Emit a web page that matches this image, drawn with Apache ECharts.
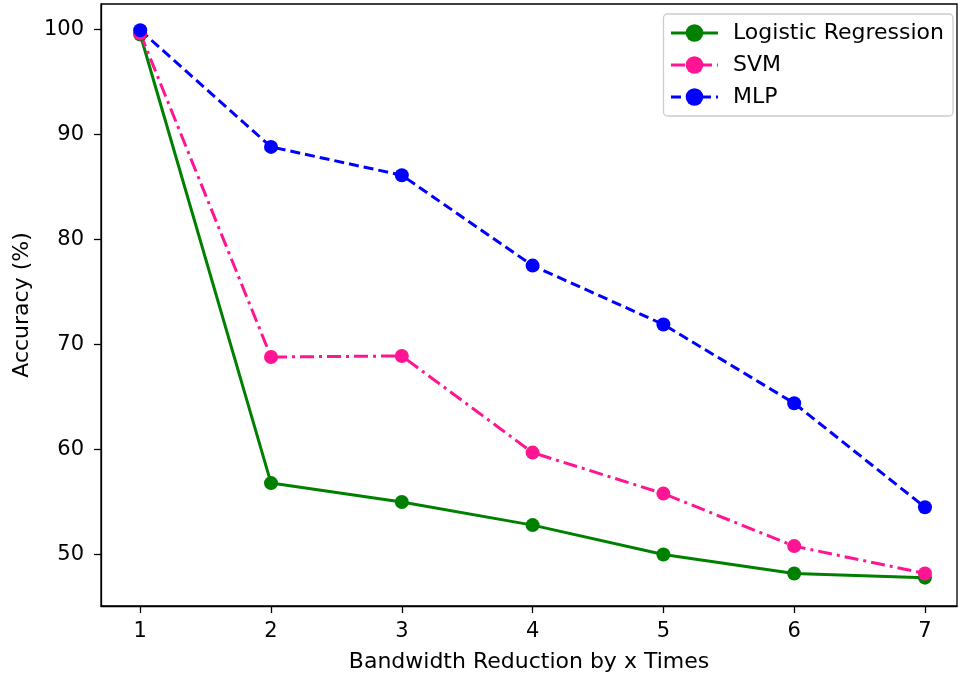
<!DOCTYPE html>
<html><head><meta charset="utf-8">
<script src="https://cdn.jsdelivr.net/npm/echarts@6/dist/echarts.min.js"></script>
<style>html,body{margin:0;padding:0;background:#fff}#c{width:958px;height:678px}</style>
</head><body><div id="c"></div>
<script>
const xValues = [1, 2, 3, 4, 5, 6, 7];
const logisticRegression = [99.5, 56.8, 55.0, 52.8, 50.0, 48.2, 47.8];
const svm = [99.6, 68.8, 68.9, 59.7, 55.8, 50.8, 48.2];
const mlp = [99.9, 88.8, 86.1, 77.5, 71.9, 64.4, 54.5];
const yTicks = [50, 60, 70, 80, 90, 100];

const pair = arr => xValues.map((x, i) => [x, arr[i]]);
const font = 'DejaVu Sans';
const chart = echarts.init(document.getElementById('c'));
function mk(name, data, color, type) {
  return {
    name, type: 'line', data: pair(data), symbol: 'circle', symbolSize: 14,
    itemStyle: { color }, lineStyle: { color, width: 3, type },
    emphasis: { disabled: true }, animation: false, z: 2
  };
}
chart.setOption({
  animation: false,
  grid: { left: 101, right: 1, top: 4, bottom: 72, show: true, borderColor: '#000', borderWidth: 1.3 },
  xAxis: {
    type: 'value', min: 0.7, max: 7.245,
    name: 'Bandwidth Reduction by x Times', nameLocation: 'middle', nameGap: 45,
    nameTextStyle: { fontFamily: font, fontSize: 22, color: '#000' },
    axisLine: { show: true, onZero: false, lineStyle: { color: '#000', width: 1.3 } },
    axisTick: { show: true, length: 7, customValues: xValues, lineStyle: { color: '#000', width: 1.3 } },
    axisLabel: { customValues: xValues, margin: 15, fontFamily: font, fontSize: 21, color: '#000' },
    splitLine: { show: false }
  },
  yAxis: {
    type: 'value', min: 45.1, max: 102.4,
    name: 'Accuracy (%)', nameLocation: 'middle', nameGap: 68, nameRotate: 90,
    nameTextStyle: { fontFamily: font, fontSize: 22, color: '#000' },
    axisLine: { show: true, onZero: false, lineStyle: { color: '#000', width: 1.3 } },
    axisTick: { show: true, length: 7, customValues: yTicks, lineStyle: { color: '#000', width: 1.3 } },
    axisLabel: { customValues: yTicks, margin: 17, fontFamily: font, fontSize: 21, color: '#000' },
    splitLine: { show: false }
  },
  legend: {
    right: 5, top: 14, orient: 'vertical', itemGap: 10, itemWidth: 47, itemHeight: 22,
    padding: [8, 9, 8, 6], borderColor: '#ccc', borderWidth: 1.3, borderRadius: 4,
    backgroundColor: '#fff',
    lineStyle: { width: 3 },
    textStyle: { fontFamily: font, fontSize: 22, color: '#000', padding: [0, 0, 0, 10] },
    data: ['Logistic Regression', 'SVM', 'MLP']
  },
  series: [
    mk('Logistic Regression', logisticRegression, '#008000', 'solid'),
    mk('SVM', svm, '#ff1493', [14, 5, 3, 5]),
    mk('MLP', mlp, '#0000ff', [10, 5])
  ]
});
</script></body></html>
